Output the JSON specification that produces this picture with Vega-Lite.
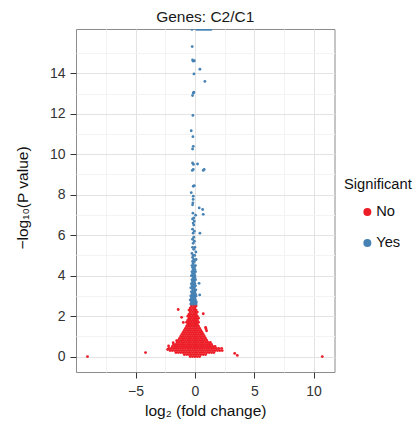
{
  "$schema": "https://vega.github.io/schema/vega-lite/v6.json",
  "width": 258.5,
  "height": 343,
  "autosize": {"type": "none"},
  "padding": {"left": 76, "top": 29, "right": 85.5, "bottom": 50},
  "background": "white",
  "config": {
    "font": "Liberation Sans",
    "view": {"stroke": "#8c8c8c", "strokeWidth": 1},
    "axis": {
      "domain": false,
      "labelFontSize": 14,
      "labelColor": "#333333",
      "tickColor": "#333333",
      "tickSize": 6,
      "tickWidth": 1,
      "titleFontSize": 15.5,
      "titleFontWeight": "normal",
      "titleColor": "#111111",
      "gridWidth": 1
    }
  },
  "title": {"text": "Genes: C2/C1", "fontSize": 15.5, "fontWeight": "normal", "color": "#1a1a1a", "anchor": "middle", "offset": 4},
  "datasets": {
    "no": [
      {"x":-0.4,"y":0},{"x":-0.2,"y":0},{"x":0,"y":0},{"x":0.2,"y":0},{"x":0.4,"y":0},
      {"x":-0.9,"y":0.1},{"x":-0.7,"y":0.1},{"x":-0.5,"y":0.1},{"x":-0.3,"y":0.1},{"x":-0.1,"y":0.1},{"x":0.1,"y":0.1},{"x":0.3,"y":0.1},{"x":0.5,"y":0.1},{"x":0.7,"y":0.1},{"x":0.9,"y":0.1},
      {"x":-1.6,"y":0.2},{"x":-1.4,"y":0.2},{"x":-1.2,"y":0.2},{"x":-1,"y":0.2},{"x":-0.8,"y":0.2},{"x":-0.6,"y":0.2},{"x":-0.4,"y":0.2},{"x":-0.2,"y":0.2},{"x":0,"y":0.2},{"x":0.2,"y":0.2},{"x":0.4,"y":0.2},{"x":0.6,"y":0.2},{"x":0.8,"y":0.2},{"x":1,"y":0.2},{"x":1.2,"y":0.2},{"x":1.4,"y":0.2},{"x":1.6,"y":0.2},
      {"x":-2.1,"y":0.3},{"x":-1.9,"y":0.3},{"x":-1.7,"y":0.3},{"x":-1.5,"y":0.3},{"x":-1.3,"y":0.3},{"x":-1.1,"y":0.3},{"x":-0.9,"y":0.3},{"x":-0.7,"y":0.3},{"x":-0.5,"y":0.3},{"x":-0.3,"y":0.3},{"x":-0.1,"y":0.3},{"x":0.1,"y":0.3},{"x":0.3,"y":0.3},{"x":0.5,"y":0.3},{"x":0.7,"y":0.3},{"x":0.9,"y":0.3},{"x":1.1,"y":0.3},{"x":1.3,"y":0.3},{"x":1.5,"y":0.3},{"x":1.7,"y":0.3},{"x":1.9,"y":0.3},{"x":2.1,"y":0.3},
      {"x":-2.2,"y":0.4},{"x":-2,"y":0.4},{"x":-1.8,"y":0.4},{"x":-1.6,"y":0.4},{"x":-1.4,"y":0.4},{"x":-1.2,"y":0.4},{"x":-1,"y":0.4},{"x":-0.8,"y":0.4},{"x":-0.6,"y":0.4},{"x":-0.4,"y":0.4},{"x":-0.2,"y":0.4},{"x":0,"y":0.4},{"x":0.2,"y":0.4},{"x":0.4,"y":0.4},{"x":0.6,"y":0.4},{"x":0.8,"y":0.4},{"x":1,"y":0.4},{"x":1.2,"y":0.4},{"x":1.4,"y":0.4},{"x":1.6,"y":0.4},{"x":1.8,"y":0.4},{"x":2,"y":0.4},{"x":2.25,"y":0.41},
      {"x":-1.9,"y":0.5},{"x":-1.7,"y":0.5},{"x":-1.5,"y":0.5},{"x":-1.3,"y":0.5},{"x":-1.1,"y":0.5},{"x":-0.9,"y":0.5},{"x":-0.7,"y":0.5},{"x":-0.5,"y":0.5},{"x":-0.3,"y":0.5},{"x":-0.1,"y":0.5},{"x":0.1,"y":0.5},{"x":0.3,"y":0.5},{"x":0.5,"y":0.5},{"x":0.7,"y":0.5},{"x":0.9,"y":0.5},{"x":1.1,"y":0.5},{"x":1.3,"y":0.5},{"x":1.5,"y":0.5},{"x":1.7,"y":0.5},
      {"x":-1.8,"y":0.6},{"x":-1.6,"y":0.6},{"x":-1.4,"y":0.6},{"x":-1.2,"y":0.6},{"x":-1,"y":0.6},{"x":-0.8,"y":0.6},{"x":-0.6,"y":0.6},{"x":-0.4,"y":0.6},{"x":-0.2,"y":0.6},{"x":0,"y":0.6},{"x":0.2,"y":0.6},{"x":0.4,"y":0.6},{"x":0.6,"y":0.6},{"x":0.8,"y":0.6},{"x":1,"y":0.6},{"x":1.2,"y":0.6},{"x":1.4,"y":0.6},
      {"x":-1.5,"y":0.7},{"x":-1.3,"y":0.7},{"x":-1.1,"y":0.7},{"x":-0.9,"y":0.7},{"x":-0.7,"y":0.7},{"x":-0.5,"y":0.7},{"x":-0.3,"y":0.7},{"x":-0.1,"y":0.7},{"x":0.1,"y":0.7},{"x":0.3,"y":0.7},{"x":0.5,"y":0.7},{"x":0.7,"y":0.7},{"x":0.9,"y":0.7},{"x":1.1,"y":0.7},{"x":1.3,"y":0.7},
      {"x":-1.4,"y":0.8},{"x":-1.2,"y":0.8},{"x":-1,"y":0.8},{"x":-0.8,"y":0.8},{"x":-0.6,"y":0.8},{"x":-0.4,"y":0.8},{"x":-0.2,"y":0.8},{"x":0,"y":0.8},{"x":0.2,"y":0.8},{"x":0.4,"y":0.8},{"x":0.6,"y":0.8},{"x":0.8,"y":0.8},{"x":1,"y":0.8},
      {"x":-1.3,"y":0.9},{"x":-1.1,"y":0.9},{"x":-0.9,"y":0.9},{"x":-0.7,"y":0.9},{"x":-0.5,"y":0.9},{"x":-0.3,"y":0.9},{"x":-0.1,"y":0.9},{"x":0.1,"y":0.9},{"x":0.3,"y":0.9},{"x":0.5,"y":0.9},{"x":0.7,"y":0.9},{"x":0.9,"y":0.9},
      {"x":-1.2,"y":1},{"x":-1,"y":1},{"x":-0.8,"y":1},{"x":-0.6,"y":1},{"x":-0.4,"y":1},{"x":-0.2,"y":1},{"x":0,"y":1},{"x":0.2,"y":1},{"x":0.4,"y":1},{"x":0.6,"y":1},{"x":0.8,"y":1},
      {"x":-1.1,"y":1.1},{"x":-0.9,"y":1.1},{"x":-0.7,"y":1.1},{"x":-0.5,"y":1.1},{"x":-0.3,"y":1.1},{"x":-0.1,"y":1.1},{"x":0.1,"y":1.1},{"x":0.3,"y":1.1},{"x":0.5,"y":1.1},{"x":0.7,"y":1.1},
      {"x":-1,"y":1.2},{"x":-0.8,"y":1.2},{"x":-0.6,"y":1.2},{"x":-0.4,"y":1.2},{"x":-0.2,"y":1.2},{"x":0,"y":1.2},{"x":0.2,"y":1.2},{"x":0.4,"y":1.2},{"x":0.6,"y":1.2},
      {"x":-0.9,"y":1.3},{"x":-0.7,"y":1.3},{"x":-0.5,"y":1.3},{"x":-0.3,"y":1.3},{"x":-0.1,"y":1.3},{"x":0.1,"y":1.3},{"x":0.3,"y":1.3},{"x":0.5,"y":1.3},
      {"x":-0.8,"y":1.4},{"x":-0.6,"y":1.4},{"x":-0.4,"y":1.4},{"x":-0.2,"y":1.4},{"x":0,"y":1.4},{"x":0.2,"y":1.4},{"x":0.4,"y":1.4},
      {"x":-0.7,"y":1.5},{"x":-0.5,"y":1.5},{"x":-0.3,"y":1.5},{"x":-0.1,"y":1.5},{"x":0.1,"y":1.5},{"x":0.3,"y":1.5},
      {"x":-0.6,"y":1.6},{"x":-0.4,"y":1.6},{"x":-0.2,"y":1.6},{"x":0,"y":1.6},{"x":0.2,"y":1.6},
      {"x":-0.7,"y":1.7},{"x":-0.5,"y":1.7},{"x":-0.3,"y":1.7},{"x":-0.1,"y":1.7},{"x":0.1,"y":1.7},{"x":0.3,"y":1.7},
      {"x":-0.6,"y":1.8},{"x":-0.4,"y":1.8},{"x":-0.2,"y":1.8},{"x":0,"y":1.8},{"x":0.2,"y":1.8},
      {"x":-0.5,"y":1.9},{"x":-0.3,"y":1.9},{"x":-0.1,"y":1.9},{"x":0.1,"y":1.9},{"x":0.3,"y":1.9},
      {"x":-0.6,"y":2},{"x":-0.4,"y":2},{"x":-0.2,"y":2},{"x":0,"y":2},{"x":0.2,"y":2},
      {"x":-0.5,"y":2.1},{"x":-0.3,"y":2.1},{"x":-0.1,"y":2.1},{"x":0.1,"y":2.1},
      {"x":-0.4,"y":2.2},{"x":-0.2,"y":2.2},{"x":0,"y":2.2},{"x":0.2,"y":2.2},
      {"x":-0.5,"y":2.3},{"x":-0.3,"y":2.3},{"x":-0.1,"y":2.3},{"x":0.1,"y":2.3},
      {"x":-0.4,"y":2.4},{"x":-0.2,"y":2.4},{"x":0,"y":2.4},
      {"x":-0.3,"y":2.5},{"x":-0.1,"y":2.5},{"x":0.1,"y":2.5},
      {"x":-9.05,"y":0},{"x":-4.16,"y":0.2},{"x":3.35,"y":0.16},{"x":3.57,"y":0.06},{"x":10.73,"y":0},
      {"x":-1.41,"y":2.33},{"x":0.7,"y":2.12},{"x":-1.12,"y":1.94},{"x":0.9,"y":1.44},{"x":0.93,"y":1.38},
      {"x":-2.22,"y":0.53},{"x":-1.83,"y":0.69},{"x":-0.98,"y":1.69},{"x":0.56,"y":1.2},{"x":0.98,"y":1.28},
      {"x":-1.54,"y":0.79},{"x":2.3,"y":0.3},{"x":-2.3,"y":0.35}
    ],
    "yes": [
      {"x":-0.35,"y":2.6},{"x":-0.2,"y":2.6},{"x":-0.05,"y":2.6},{"x":0.1,"y":2.6},
      {"x":-0.3,"y":2.7},{"x":-0.15,"y":2.7},{"x":0,"y":2.7},{"x":0.12,"y":2.7},
      {"x":-0.4,"y":2.8},{"x":-0.25,"y":2.8},{"x":-0.1,"y":2.8},{"x":0.05,"y":2.8},
      {"x":-0.3,"y":2.9},{"x":-0.15,"y":2.9},{"x":0,"y":2.9},
      {"x":-0.35,"y":3},{"x":-0.2,"y":3},{"x":-0.05,"y":3},{"x":0.1,"y":3},
      {"x":0.4,"y":3.05},
      {"x":-0.25,"y":3.1},{"x":-0.1,"y":3.1},{"x":0.05,"y":3.1},
      {"x":-0.3,"y":3.2},{"x":-0.15,"y":3.2},{"x":0,"y":3.2},
      {"x":-0.2,"y":3.3},{"x":-0.05,"y":3.3},{"x":0.08,"y":3.3},
      {"x":-0.35,"y":3.4},{"x":-0.2,"y":3.4},{"x":-0.05,"y":3.4},
      {"x":-0.25,"y":3.5},{"x":-0.1,"y":3.5},{"x":0.05,"y":3.5},
      {"x":-0.3,"y":3.6},{"x":-0.15,"y":3.6},{"x":0,"y":3.6},{"x":0.35,"y":3.62},
      {"x":-0.2,"y":3.7},{"x":-0.05,"y":3.7},
      {"x":-0.25,"y":3.8},{"x":-0.1,"y":3.8},{"x":0.05,"y":3.8},
      {"x":-0.15,"y":3.9},{"x":0,"y":3.9},
      {"x":-0.3,"y":4},{"x":-0.15,"y":4},{"x":0,"y":4},
      {"x":-0.2,"y":4.1},{"x":-0.05,"y":4.1},
      {"x":-0.25,"y":4.2},{"x":-0.1,"y":4.2},{"x":0.05,"y":4.2},
      {"x":-0.15,"y":4.3},{"x":0,"y":4.3},
      {"x":-0.2,"y":4.4},{"x":-0.05,"y":4.4},
      {"x":-0.25,"y":4.5},{"x":-0.1,"y":4.5},{"x":0.05,"y":4.5},
      {"x":-0.15,"y":4.6},
      {"x":-0.2,"y":4.7},{"x":-0.05,"y":4.7},
      {"x":-0.1,"y":4.8},{"x":0.1,"y":4.8},
      {"x":-0.2,"y":4.9},
      {"x":-0.15,"y":5},{"x":-0.02,"y":5},
      {"x":-0.25,"y":5.1},{"x":0.08,"y":5.17},
      {"x":-0.1,"y":5.3},
      {"x":-0.2,"y":5.4},{"x":0,"y":5.4},
      {"x":-0.15,"y":5.6},{"x":-0.05,"y":5.7},{"x":-0.2,"y":5.8},{"x":-0.1,"y":5.9},
      {"x":-0.15,"y":6.1},{"x":0.42,"y":6.1},
      {"x":-0.05,"y":6.2},{"x":-0.2,"y":6.3},{"x":-0.1,"y":6.5},{"x":-0.15,"y":6.6},{"x":-0.05,"y":6.7},{"x":-0.2,"y":6.8},{"x":-0.1,"y":6.85},
      {"x":0.06,"y":6.99},{"x":0.7,"y":7.03},{"x":-0.17,"y":7.09},{"x":0.65,"y":7.27},{"x":0.36,"y":7.35},
      {"x":-0.2,"y":7.5},{"x":-0.17,"y":7.6},{"x":-0.15,"y":7.77},{"x":-0.14,"y":7.93},{"x":-0.31,"y":8.1},
      {"x":-0.14,"y":8.42},{"x":-0.05,"y":8.45},
      {"x":-0.22,"y":9.2},{"x":-0.14,"y":9.25},{"x":0.7,"y":9.2},{"x":0.78,"y":9.25},
      {"x":-0.12,"y":9.5},{"x":0.22,"y":9.52},{"x":-0.2,"y":9.57},
      {"x":-0.2,"y":10.26},{"x":-0.14,"y":10.39},{"x":-0.17,"y":10.87},{"x":-0.31,"y":11.16},{"x":-0.17,"y":11.92},
      {"x":-0.2,"y":12.9},{"x":-0.14,"y":13.02},{"x":-0.1,"y":13.07},{"x":0.84,"y":13.6},{"x":-0.08,"y":13.97},{"x":0.42,"y":14.2},
      {"x":-0.14,"y":14.6},{"x":-0.2,"y":14.66},{"x":-0.05,"y":14.62},{"x":-0.23,"y":15.32},
      {"x":-0.25,"y":16.17},{"x":0.15,"y":16.17},{"x":0.3,"y":16.17},{"x":0.45,"y":16.17},{"x":0.6,"y":16.17},{"x":0.75,"y":16.17},{"x":0.9,"y":16.17},{"x":1.05,"y":16.17},{"x":1.2,"y":16.17},{"x":1.35,"y":16.17}
    ]
  },
  "encoding": {
    "x": {
      "field": "x",
      "type": "quantitative",
      "scale": {"domain": [-10.02, 11.76], "nice": false, "zero": false},
      "axis": {
        "title": "log₂ (fold change)",
        "values": [-7.5, -5, -2.5, 0, 2.5, 5, 7.5, 10],
        "labelExpr": "datum.value % 5 === 0 ? datum.label : ''",
        "gridColor": {"condition": {"test": "datum.value % 5 === 0", "value": "#e3e3e3"}, "value": "#f3f3f3"},
        "tickOpacity": {"condition": {"test": "datum.value % 5 === 0", "value": 1}, "value": 0},
        "labelPadding": 6,
        "titleBaseline": "alphabetic",
        "titleY": 43
      }
    },
    "y": {
      "field": "y",
      "type": "quantitative",
      "scale": {"domain": [-0.76, 16.19], "nice": false, "zero": false},
      "axis": {
        "title": "−log₁₀(P value)",
        "values": [0, 1, 2, 3, 4, 5, 6, 7, 8, 9, 10, 11, 12, 13, 14, 15],
        "labelExpr": "datum.value % 2 === 0 ? datum.label : ''",
        "gridColor": {"condition": {"test": "datum.value % 2 === 0", "value": "#e3e3e3"}, "value": "#f3f3f3"},
        "tickOpacity": {"condition": {"test": "datum.value % 2 === 0", "value": 1}, "value": 0},
        "labelPadding": 5,
        "titleAngle": -90,
        "titleBaseline": "alphabetic",
        "titleAlign": "center",
        "titleX": -49,
        "titleY": 168.5
      }
    }
  },
  "layer": [
    {
      "data": {"name": "no"},
      "mark": {"type": "circle", "size": 8, "opacity": 1, "clip": true},
      "encoding": {
        "color": {
          "datum": "No",
          "type": "nominal",
          "scale": {"domain": ["No", "Yes"], "range": ["#EC1D27", "#4682B4"]},
          "legend": {
            "title": "Significant",
            "orient": "none",
            "legendX": 268,
            "legendY": 148,
            "padding": 0,
            "titleFontSize": 14.7,
            "titleFontWeight": "normal",
            "titleColor": "#111111",
            "titlePadding": 13,
            "labelFontSize": 14.7,
            "labelColor": "#111111",
            "symbolType": "circle",
            "symbolSize": 64,
            "symbolStrokeWidth": 0,
            "symbolOpacity": 1,
            "symbolOffset": 16,
            "labelOffset": 1.5,
            "rowPadding": 15
          }
        }
      }
    },
    {
      "data": {"name": "yes"},
      "mark": {"type": "circle", "size": 8, "opacity": 1, "clip": true},
      "encoding": {
        "color": {"datum": "Yes", "type": "nominal"}
      }
    }
  ]
}
